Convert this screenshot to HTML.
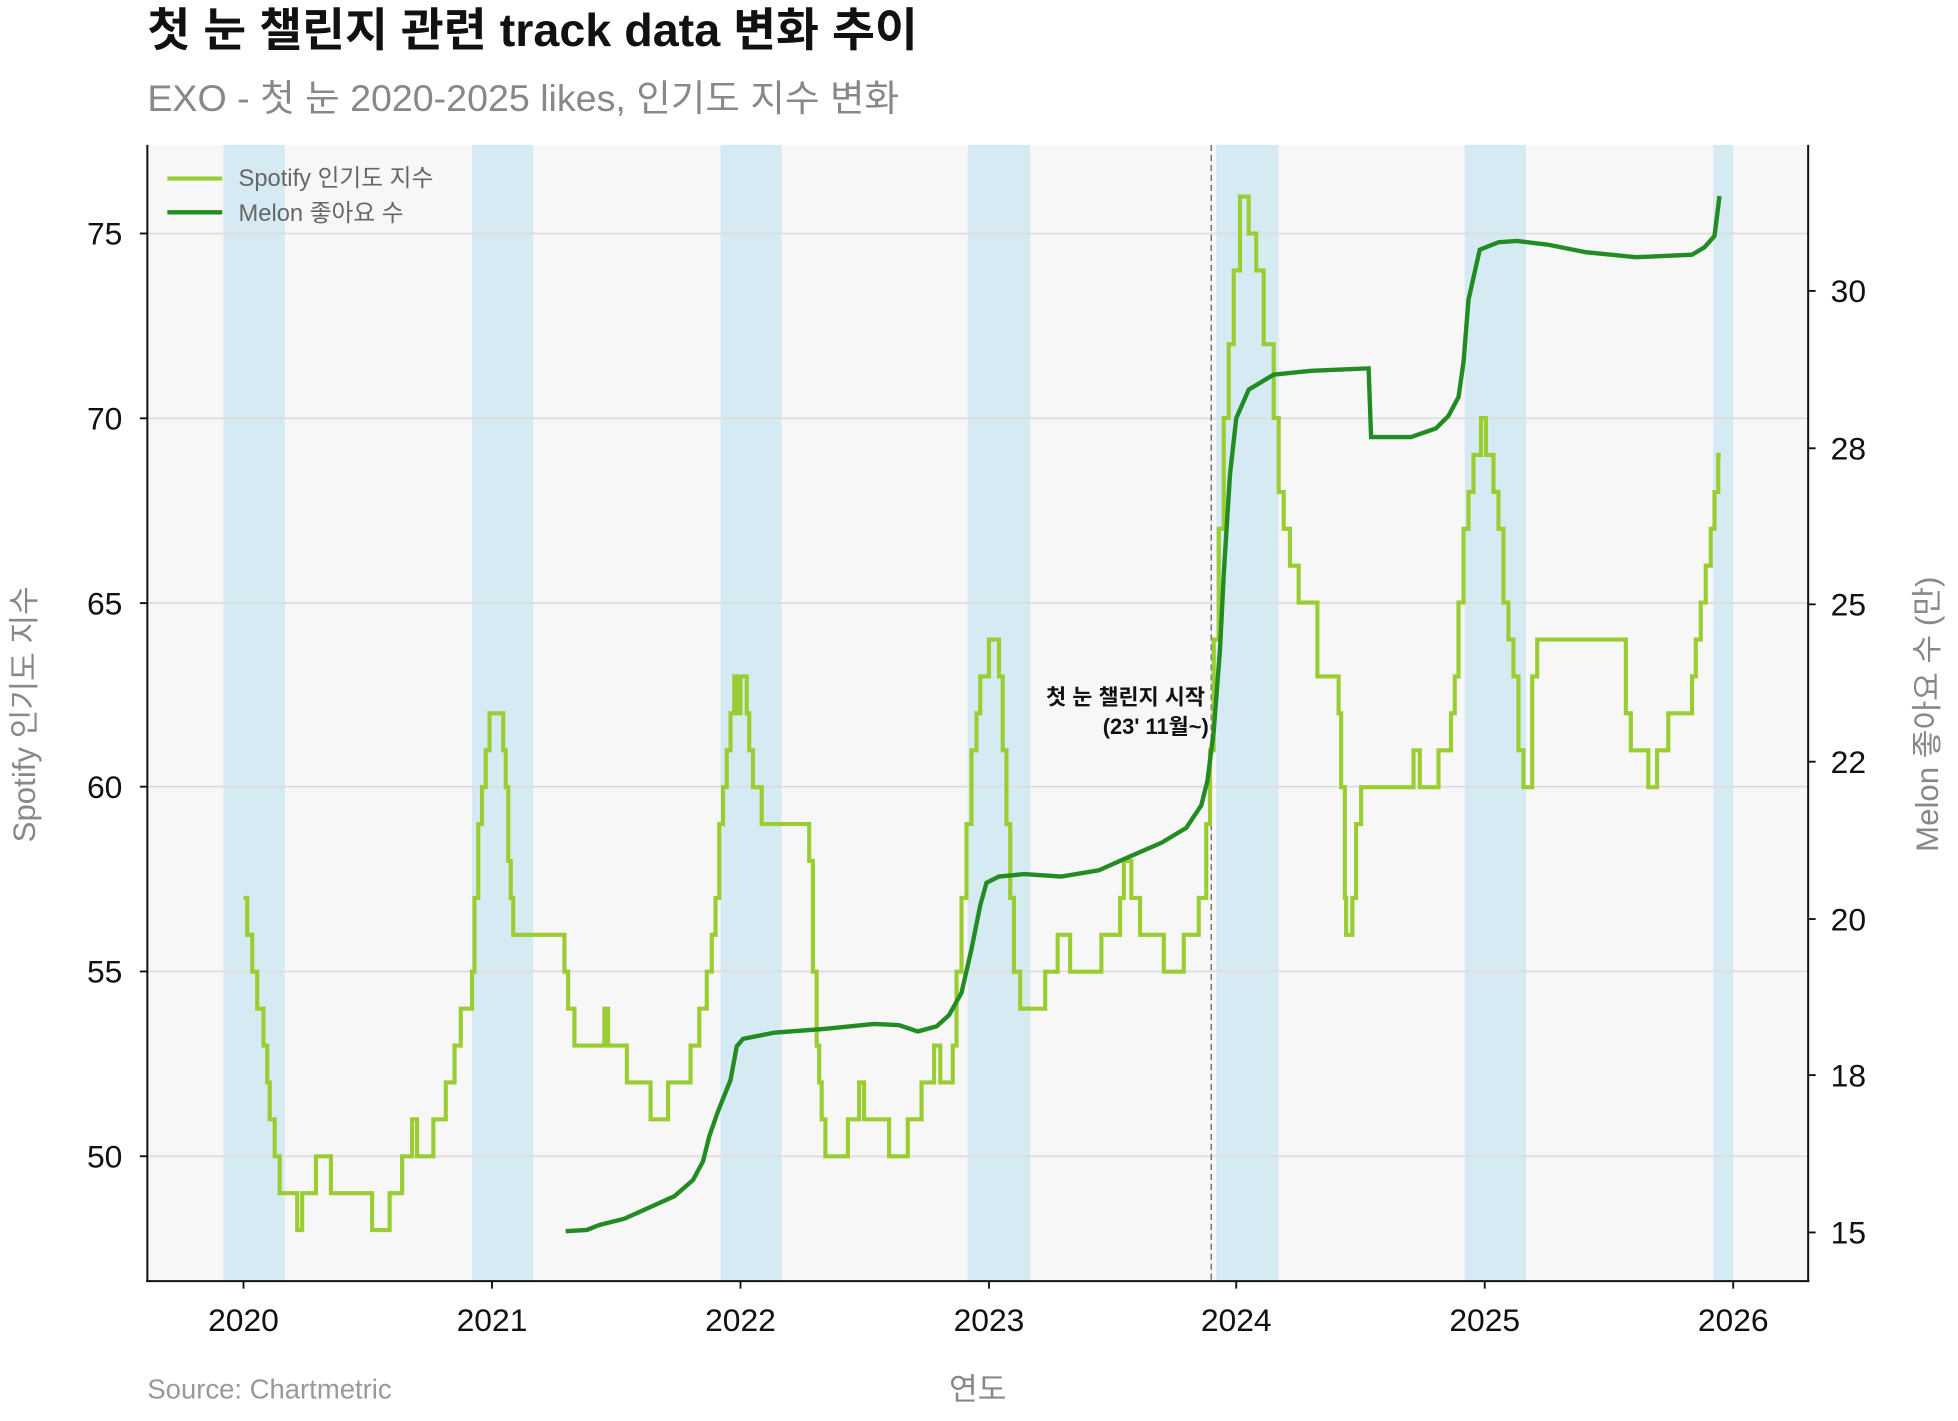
<!DOCTYPE html>
<html><head><meta charset="utf-8"><style>
html,body{margin:0;padding:0;background:#fff;}
svg text{font-family:"Liberation Sans","Noto Sans CJK KR",sans-serif;}
</style></head><body>
<svg id="s" width="1958" height="1416" viewBox="0 0 1568 1134" preserveAspectRatio="none" xmlns="http://www.w3.org/2000/svg">
<text x="118" y="37" font-size="37" font-weight="bold" fill="#111" textLength="617" lengthAdjust="spacingAndGlyphs">첫 눈 챌린지 관련 track data 변화 추이</text>
<text x="118" y="89" font-size="29.5" fill="#888" textLength="602" lengthAdjust="spacingAndGlyphs">EXO - 첫 눈 2020-2025 likes, 인기도 지수 변화</text>
<rect x="118" y="116" width="1330" height="910" fill="#f7f7f7"/>
<g fill="#d5eaf3">
<rect x="179" y="116" width="49" height="910"/><rect x="378" y="116" width="49" height="910"/>
<rect x="577" y="116" width="49" height="910"/><rect x="775" y="116" width="50" height="910"/>
<rect x="974" y="116" width="50" height="910"/><rect x="1173" y="116" width="49" height="910"/>
<rect x="1372" y="116" width="16" height="910"/>
</g>
<g stroke="#dedede" stroke-width="1.5">
<line x1="118" x2="1448" y1="187" y2="187"/><line x1="118" x2="1448" y1="335" y2="335"/>
<line x1="118" x2="1448" y1="483" y2="483"/><line x1="118" x2="1448" y1="630" y2="630"/>
<line x1="118" x2="1448" y1="778" y2="778"/><line x1="118" x2="1448" y1="926" y2="926"/>
</g>
<line x1="970" x2="970" y1="116" y2="1026" stroke="#777" stroke-width="1.2" stroke-dasharray="5,3"/>
<path id="sp" fill="none" stroke="#9acd32" stroke-width="3.3"/>
<path id="ml" fill="none" stroke="#228b22" stroke-width="3.5"/>
<text x="965" y="564" font-size="17.5" font-weight="bold" text-anchor="end" fill="#111">첫 눈 챌린지 시작</text>
<text x="968" y="588" font-size="17.5" font-weight="bold" text-anchor="end" fill="#111">(23' 11월~)</text>
<g stroke="#111" stroke-width="1.6">
<line x1="118" x2="118" y1="116" y2="1026"/><line x1="1448" x2="1448" y1="116" y2="1026"/>
<line x1="117" x2="1449" y1="1026" y2="1026"/>
</g>
<g id="ticks" stroke="#111" stroke-width="1.5"></g>
<g font-size="25.5" fill="#111" text-anchor="end">
<text x="98" y="196">75</text><text x="98" y="344">70</text><text x="98" y="492">65</text>
<text x="98" y="639">60</text><text x="98" y="787">55</text><text x="98" y="935">50</text>
</g>
<g font-size="25.5" fill="#111">
<text x="1466" y="242">30</text><text x="1466" y="368">28</text><text x="1466" y="493">25</text>
<text x="1466" y="619">22</text><text x="1466" y="745">20</text><text x="1466" y="870">18</text><text x="1466" y="996">15</text>
</g>
<g font-size="25.5" fill="#111" text-anchor="middle">
<text x="195" y="1066">2020</text><text x="394" y="1066">2021</text><text x="593" y="1066">2022</text>
<text x="792" y="1066">2023</text><text x="990" y="1066">2024</text><text x="1189" y="1066">2025</text><text x="1388" y="1066">2026</text>
</g>
<text x="783" y="1121" font-size="25" fill="#888" text-anchor="middle">연도</text>
<text x="118" y="1120" font-size="22" fill="#999">Source: Chartmetric</text>
<text transform="translate(28,572) rotate(-90)" font-size="25" fill="#888" text-anchor="middle">Spotify 인기도 지수</text>
<text transform="translate(1552,572) rotate(-90)" font-size="25" fill="#888" text-anchor="middle">Melon 좋아요 수 (만)</text>
<line x1="134" x2="178" y1="143" y2="143" stroke="#9acd32" stroke-width="3.3"/>
<line x1="134" x2="178" y1="170" y2="170" stroke="#228b22" stroke-width="3.5"/>
<text x="191" y="149" font-size="19" fill="#666">Spotify 인기도 지수</text>
<text x="191" y="177" font-size="19" fill="#666">Melon 좋아요 수</text>
</svg>
<script>
var Y=v=>187+(75-v)*29.56;
var sp=[[195,57],[198,56],[202,55],[206,54],[211,53],[214,52],[216,51],[220,50],[224,49],[238,48],[242,49],[253,50],[265,49],[298,48],[312,49],[322,50],[330,51],[334,50],[347,51],[357,52],[364,53],[369,54],[378,55],[380,57],[383,59],[386,60],[389,61],[392,62],[403,61],[405,60],[407,58],[409,57],[411,56],[452,55],[455,54],[460,53],[484,54],[487,53],[502,52],[521,51],[535,52],[553,53],[560,54],[566,55],[570,56],[573,57],[576,59],[579,60],[582,61],[585,62],[588,63],[591,62],[593,63],[598,62],[600,61],[603,60],[610,59],[648,58],[651,55],[654,53],[656,52],[658,51],[661,50],[679,51],[688,52],[692,51],[712,50],[727,51],[738,52],[748,53],[753,52],[763,53],[766,55],[770,57],[774,59],[778,61],[782,62],[785,63],[792,64],[800,63],[803,61],[806,59],[809,57],[812,55],[817,54],[837,55],[847,56],[857,55],[882,56],[897,57],[900,58],[906,57],[913,56],[932,55],[948,56],[960,57],[966,59],[969,61],[972,64],[976,67],[980,70],[984,72],[988,74],[993,76],[1000,75],[1006,74],[1012,72],[1020,70],[1024,68],[1028,67],[1033,66],[1040,65],[1055,63],[1072,62],[1074,60],[1077,57],[1078,56],[1083,57],[1086,59],[1090,60],[1132,61],[1137,60],[1152,61],[1162,62],[1165,63],[1168,65],[1172,67],[1176,68],[1180,69],[1186,70],[1190,69],[1196,68],[1200,67],[1204,65],[1208,64],[1212,63],[1216,61],[1220,60],[1227,63],[1231,64],[1302,62],[1306,61],[1320,60],[1327,61],[1336,62],[1355,63],[1358,64],[1362,65],[1366,66],[1370,67],[1373,68],[1376,69]];
var d="M"+sp[0][0]+" "+Y(sp[0][1]);
for(var i=1;i<sp.length;i++){d+=" H"+sp[i][0]+" V"+Y(sp[i][1]);}
d+=" H1378";
document.getElementById("sp").setAttribute("d",d);
var ml=[[453,986],[470,985],[480,981],[500,976],[520,967],[540,958],[555,945],[563,930],[568,910],[575,890],[585,865],[590,838],[595,832],[620,827],[660,824],[700,820],[720,821],[735,826],[750,822],[760,813],[770,795],[778,760],[785,725],[790,707],[800,702],[820,700],[850,702],[880,697],[900,688],[930,675],[950,663],[962,645],[967,625],[972,585],[977,520],[980,460],[985,380],[990,335],[1000,312],[1020,300],[1050,297],[1096,295],[1098,350],[1130,350],[1150,343],[1160,333],[1168,318],[1172,290],[1176,240],[1185,200],[1200,194],[1215,193],[1240,196],[1270,202],[1310,206],[1355,204],[1365,198],[1373,189],[1377,157]];
document.getElementById("ml").setAttribute("d","M"+ml.map(p=>p.join(" ")).join(" L"));
var t="";[187,335,483,630,778,926].forEach(y=>t+='<line x1="112" x2="118" y1="'+y+'" y2="'+y+'"/>');
[233,359,484,610,736,861,987].forEach(y=>t+='<line x1="1448" x2="1454" y1="'+y+'" y2="'+y+'"/>');
[195,394,593,792,990,1189,1388].forEach(x=>t+='<line x1="'+x+'" x2="'+x+'" y1="1026" y2="1032"/>');
document.getElementById("ticks").innerHTML=t;
</script>
</body></html>
